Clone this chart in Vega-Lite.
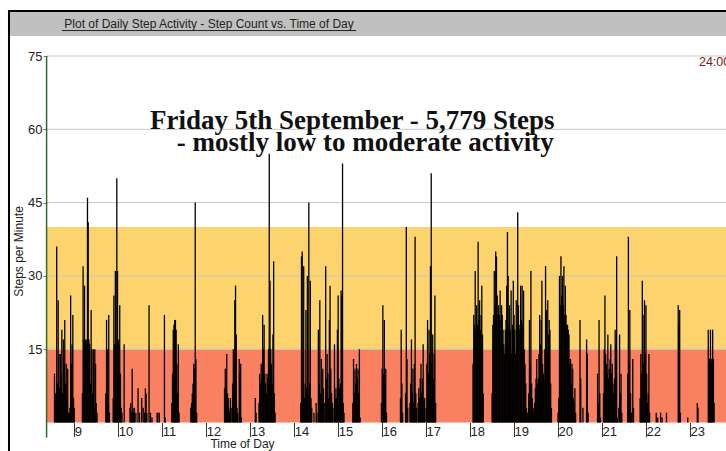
{
"$schema":"https://vega.github.io/schema/vega-lite/v6.json",
"width":679,"height":366.5,
"autosize":{"type":"none"},
"padding":{"left":47,"top":56,"right":0,"bottom":28.5},
"background":"white",
"config":{"view":{"stroke":null},
"axisX":{"domain":false,"grid":false,"tickSize":14,"tickColor":"#333","labelAlign":"left","labelDx":2,"labelBaseline":"alphabetic","labelPadding":-1.5,"labelFont":"Liberation Sans","labelFontSize":13,"labelColor":"#222","labelFlush":false,"labelOverlap":false,"titleFont":"Liberation Sans","titleFontSize":12,"titleFontWeight":"normal","titleColor":"#222","titleX":195,"titleY":24.5,"titleAlign":"center","titleBaseline":"alphabetic","titleAngle":0},
"axisY":{"domain":false,"grid":false,"tickSize":4,"tickColor":"#777","labelFont":"Liberation Sans","labelFontSize":13,"labelColor":"#222","labelPadding":1,"labelOverlap":false,"titleFont":"Liberation Sans","titleFontSize":12,"titleFontWeight":"normal","titleColor":"#222","titleX":-29,"titleY":195,"titleAngle":-90,"titleAlign":"center","titleBaseline":"middle"}},
"layer":[
{"data":{"values":[{"k":"bar"}]},"mark":{"type":"rect","color":"#C0C0C0"},
 "encoding":{"x":{"datum":452.3,"type":"quantitative","scale":{"domain":[502.76,1429.19],"nice":false,"zero":false}},"x2":{"datum":1445},"y":{"datum":79.09,"type":"quantitative","scale":{"domain":[0,75],"nice":false,"zero":false}},"y2":{"datum":84.0}}},
{"data":{"values":[{"k":"top"}]},"mark":{"type":"rule","color":"black","strokeWidth":2},
 "encoding":{"x":{"datum":449.5,"type":"quantitative"},"x2":{"datum":1445},"y":{"datum":84.2,"type":"quantitative"}}},
{"data":{"values":[{"k":"left"}]},"mark":{"type":"rule","color":"black","strokeWidth":2},
 "encoding":{"x":{"datum":450.9,"type":"quantitative"},"y":{"datum":84.2,"type":"quantitative"},"y2":{"datum":-7}}},
{"data":{"values":[{"m":723.8,"v":80.66,"t":"Plot of Daily Step Activity - Step Count vs. Time of Day"}]},
 "mark":{"type":"text","font":"Liberation Sans","fontSize":12,"align":"center","baseline":"alphabetic","color":"#222"},
 "encoding":{"x":{"field":"m","type":"quantitative"},"y":{"field":"v","type":"quantitative"},"text":{"field":"t"}}},
{"data":{"values":[{"k":"underline"}]},"mark":{"type":"rule","color":"#222","strokeWidth":1},
 "encoding":{"x":{"datum":523.2,"type":"quantitative"},"x2":{"datum":924.5},"y":{"datum":80.21,"type":"quantitative"}}},
{"data":{"values":[{"lo":0,"hi":15,"z":"moderate"},{"lo":15,"hi":40,"z":"high"}]},
 "mark":{"type":"rect"},
 "encoding":{"x":{"datum":502.76,"type":"quantitative"},"x2":{"datum":1429.19},"y":{"field":"lo","type":"quantitative"},"y2":{"field":"hi"},
 "color":{"field":"z","type":"nominal","scale":{"domain":["moderate","high"],"range":["#F98060","#FDD36E"]},"legend":null}}},
{"data":{"values":[{"g":15},{"g":30},{"g":45},{"g":60},{"g":75}]},"mark":{"type":"rule","color":"#C8C8C8","strokeWidth":1},
 "encoding":{"x":{"datum":502.76,"type":"quantitative"},"x2":{"datum":1429.19},"y":{"field":"g","type":"quantitative"}}},
{"data":{"values":[{"k":"yaxis"}]},"mark":{"type":"rule","color":"#2E6B2E","strokeWidth":1.5},
 "encoding":{"x":{"datum":502.2,"type":"quantitative"},"y":{"datum":75,"type":"quantitative"},"y2":{"datum":-3.07}}},
{"data":{"values":[
{"m":513,"s":10},{"m":514,"s":6},{"m":515,"s":5},{"m":516,"s":36},{"m":517,"s":8},{"m":518,"s":25},{"m":519,"s":14},{"m":520,"s":7},{"m":521,"s":14},{"m":522,"s":10},{"m":523,"s":19},{"m":524,"s":6},{"m":525,"s":17},{"m":526,"s":12},{"m":527,"s":21},{"m":528,"s":8},{"m":529,"s":12},{"m":530,"s":5},{"m":531,"s":11},{"m":532,"s":2},{"m":533,"s":2},{"m":534,"s":3},{"m":535,"s":26},{"m":536,"s":12},{"m":537,"s":16},{"m":538,"s":22},{"m":539,"s":5},{"m":540,"s":3},
{"m":551,"s":6},{"m":552,"s":32},{"m":553,"s":17},{"m":554,"s":28},{"m":555,"s":17},{"m":556,"s":16},{"m":557,"s":17},{"m":558,"s":46},{"m":559,"s":41},{"m":560,"s":17},{"m":561,"s":16},{"m":562,"s":8},{"m":563,"s":23},{"m":564,"s":15},{"m":565,"s":6},{"m":566,"s":15},{"m":567,"s":3},{"m":568,"s":15},{"m":569,"s":12},{"m":570,"s":4},{"m":571,"s":2},
{"m":583,"s":6},{"m":584,"s":21},{"m":585,"s":15},{"m":586,"s":4},{"m":587,"s":22},{"m":588,"s":2},{"m":593,"s":5},{"m":594,"s":26},{"m":595,"s":16},{"m":596,"s":31},{"m":597,"s":16},{"m":598,"s":50},{"m":599,"s":31},{"m":600,"s":17},{"m":601,"s":16},{"m":602,"s":24},{"m":603,"s":10},{"m":604,"s":3},{"m":605,"s":2},{"m":608,"s":16},
{"m":616,"s":3},{"m":617,"s":4},{"m":618,"s":2},{"m":619,"s":11},{"m":620,"s":3},{"m":621,"s":2},{"m":622,"s":3},{"m":624,"s":2},{"m":627,"s":7},{"m":629,"s":2},{"m":632,"s":5},{"m":634,"s":3},{"m":636,"s":2},{"m":637,"s":7},{"m":638,"s":6},{"m":639,"s":2},{"m":642,"s":24},{"m":644,"s":2},{"m":646,"s":1},{"m":653,"s":2},{"m":654,"s":2},{"m":656,"s":2},
{"m":663,"s":22},{"m":664,"s":1},{"m":673,"s":4},{"m":674,"s":10},{"m":675,"s":19},{"m":676,"s":20},{"m":677,"s":21},{"m":678,"s":21},{"m":679,"s":19},{"m":680,"s":12},{"m":681,"s":6},{"m":682,"s":16},{"m":683,"s":2},
{"m":699,"s":3},{"m":700,"s":4},{"m":701,"s":6},{"m":702,"s":8},{"m":703,"s":12},{"m":704,"s":11},{"m":705,"s":45},{"m":706,"s":13},{"m":707,"s":2},
{"m":745,"s":7},{"m":746,"s":11},{"m":747,"s":9},{"m":748,"s":14},{"m":749,"s":6},{"m":750,"s":5},{"m":751,"s":3},{"m":752,"s":2},{"m":753,"s":5},{"m":754,"s":3},{"m":756,"s":8},{"m":757,"s":15},{"m":758,"s":12},{"m":759,"s":25},{"m":760,"s":28},{"m":761,"s":18},{"m":762,"s":3},{"m":763,"s":2},{"m":765,"s":13},{"m":766,"s":10},{"m":767,"s":12},{"m":768,"s":1},
{"m":787,"s":5},{"m":788,"s":2},{"m":792,"s":4},{"m":793,"s":10},{"m":794,"s":8},{"m":795,"s":12},{"m":796,"s":9},{"m":797,"s":22},{"m":798,"s":15},{"m":799,"s":20},{"m":800,"s":10},{"m":801,"s":8},{"m":802,"s":6},{"m":803,"s":10},{"m":804,"s":9},{"m":805,"s":15},{"m":806,"s":55},{"m":807,"s":29},{"m":808,"s":15},{"m":809,"s":12},{"m":810,"s":8},{"m":811,"s":18},{"m":812,"s":33},{"m":813,"s":6},{"m":814,"s":2},
{"m":849,"s":4},{"m":850,"s":34},{"m":851,"s":35},{"m":852,"s":6},{"m":853,"s":32},{"m":854,"s":5},{"m":855,"s":8},{"m":856,"s":23},{"m":857,"s":7},{"m":858,"s":30},{"m":859,"s":6},{"m":860,"s":45},{"m":861,"s":8},{"m":862,"s":29},{"m":863,"s":5},{"m":864,"s":3},
{"m":867,"s":2},{"m":870,"s":4},{"m":871,"s":2},{"m":873,"s":19},{"m":874,"s":8},{"m":875,"s":25},{"m":876,"s":6},{"m":877,"s":13},{"m":878,"s":4},{"m":879,"s":11},{"m":880,"s":7},{"m":881,"s":4},{"m":883,"s":32},{"m":884,"s":9},{"m":885,"s":14},{"m":886,"s":10},{"m":887,"s":5},{"m":888,"s":21},{"m":889,"s":28},{"m":890,"s":11},{"m":891,"s":6},{"m":892,"s":4},{"m":893,"s":3},{"m":895,"s":16},{"m":896,"s":5},{"m":897,"s":7},{"m":898,"s":5},{"m":899,"s":19},{"m":900,"s":26},{"m":901,"s":9},{"m":902,"s":7},{"m":903,"s":8},{"m":904,"s":27},{"m":905,"s":26},{"m":906,"s":53},{"m":907,"s":4},{"m":908,"s":2},
{"m":920,"s":4},{"m":921,"s":13},{"m":922,"s":6},{"m":923,"s":11},{"m":924,"s":8},{"m":925,"s":12},{"m":926,"s":9},{"m":927,"s":11},{"m":928,"s":6},{"m":929,"s":15},{"m":930,"s":1},
{"m":959,"s":4},{"m":960,"s":11},{"m":961,"s":24},{"m":962,"s":10},{"m":963,"s":21},{"m":964,"s":8},{"m":965,"s":11},{"m":966,"s":2},
{"m":985,"s":5},{"m":986,"s":19},{"m":987,"s":8},{"m":988,"s":2},{"m":992,"s":6},{"m":993,"s":40},{"m":994,"s":13},{"m":995,"s":3},{"m":998,"s":4},{"m":999,"s":8},{"m":1000,"s":17},{"m":1001,"s":6},{"m":1002,"s":11},{"m":1003,"s":4},{"m":1004,"s":12},{"m":1005,"s":38},{"m":1006,"s":6},{"m":1007,"s":3},{"m":1009,"s":4},{"m":1010,"s":7},{"m":1011,"s":5},{"m":1012,"s":9},{"m":1013,"s":12},{"m":1014,"s":6},{"m":1015,"s":9},{"m":1016,"s":16},{"m":1017,"s":5},{"m":1018,"s":5},{"m":1020,"s":3},{"m":1021,"s":12},{"m":1022,"s":21},{"m":1023,"s":10},{"m":1024,"s":19},{"m":1025,"s":14},{"m":1026,"s":32},{"m":1027,"s":51},{"m":1028,"s":12},{"m":1029,"s":18},{"m":1030,"s":9},{"m":1031,"s":14},{"m":1032,"s":26},{"m":1033,"s":4},
{"m":1084,"s":12},{"m":1085,"s":22},{"m":1086,"s":20},{"m":1087,"s":31},{"m":1088,"s":19},{"m":1089,"s":24},{"m":1090,"s":20},{"m":1091,"s":37},{"m":1092,"s":21},{"m":1093,"s":25},{"m":1094,"s":19},{"m":1095,"s":22},{"m":1096,"s":28},{"m":1097,"s":18},{"m":1098,"s":6},
{"m":1110,"s":6},{"m":1111,"s":20},{"m":1112,"s":22},{"m":1113,"s":31},{"m":1114,"s":24},{"m":1115,"s":35},{"m":1116,"s":34},{"m":1117,"s":26},{"m":1118,"s":22},{"m":1119,"s":24},{"m":1120,"s":22},{"m":1121,"s":27},{"m":1122,"s":21},{"m":1123,"s":24},{"m":1124,"s":22},{"m":1125,"s":19},{"m":1126,"s":16},{"m":1127,"s":14},{"m":1128,"s":19},{"m":1129,"s":21},{"m":1130,"s":28},{"m":1131,"s":39},{"m":1132,"s":30},{"m":1133,"s":20},{"m":1134,"s":24},{"m":1135,"s":19},{"m":1136,"s":27},{"m":1137,"s":14},{"m":1138,"s":20},{"m":1139,"s":29},{"m":1140,"s":22},{"m":1141,"s":19},{"m":1142,"s":14},{"m":1143,"s":25},{"m":1144,"s":20},{"m":1145,"s":43},{"m":1146,"s":24},{"m":1147,"s":19},{"m":1148,"s":20},{"m":1149,"s":28},{"m":1150,"s":21},{"m":1151,"s":28},{"m":1152,"s":20},{"m":1153,"s":27},{"m":1154,"s":15},{"m":1155,"s":12},{"m":1156,"s":8},{"m":1157,"s":3},{"m":1158,"s":2},{"m":1159,"s":1},{"m":1160,"s":6},{"m":1161,"s":21},{"m":1162,"s":12},{"m":1163,"s":31},{"m":1164,"s":8},{"m":1165,"s":5},{"m":1166,"s":3},{"m":1167,"s":2},{"m":1168,"s":4},{"m":1169,"s":7},{"m":1170,"s":9},{"m":1171,"s":13},{"m":1172,"s":8},{"m":1173,"s":9},{"m":1174,"s":14},{"m":1175,"s":22},{"m":1176,"s":16},{"m":1177,"s":21},{"m":1178,"s":29},{"m":1179,"s":12},{"m":1180,"s":10},{"m":1181,"s":9},{"m":1182,"s":15},{"m":1183,"s":32},{"m":1184,"s":23},{"m":1185,"s":14},{"m":1186,"s":25},{"m":1187,"s":18},{"m":1188,"s":21},{"m":1189,"s":19},{"m":1190,"s":8},{"m":1191,"s":3},
{"m":1200,"s":2},{"m":1201,"s":5},{"m":1202,"s":30},{"m":1203,"s":24},{"m":1204,"s":34},{"m":1205,"s":26},{"m":1206,"s":30},{"m":1207,"s":24},{"m":1208,"s":32},{"m":1209,"s":22},{"m":1210,"s":28},{"m":1211,"s":22},{"m":1212,"s":20},{"m":1213,"s":20},{"m":1214,"s":19},{"m":1215,"s":18},{"m":1216,"s":12},{"m":1217,"s":13},{"m":1218,"s":8},{"m":1219,"s":12},{"m":1220,"s":11},{"m":1221,"s":5},{"m":1222,"s":4},{"m":1223,"s":7},{"m":1224,"s":2},{"m":1230,"s":21},{"m":1231,"s":9},{"m":1234,"s":3},{"m":1239,"s":17},{"m":1240,"s":14},{"m":1241,"s":2},
{"m":1254,"s":10},{"m":1255,"s":4},{"m":1256,"s":21},{"m":1257,"s":6},{"m":1258,"s":1},{"m":1262,"s":6},{"m":1263,"s":15},{"m":1264,"s":26},{"m":1265,"s":14},{"m":1266,"s":12},{"m":1267,"s":10},{"m":1268,"s":18},{"m":1269,"s":9},{"m":1270,"s":11},{"m":1271,"s":13},{"m":1272,"s":16},{"m":1273,"s":10},{"m":1274,"s":12},{"m":1275,"s":8},{"m":1276,"s":6},{"m":1277,"s":9},{"m":1278,"s":19},{"m":1279,"s":16},{"m":1280,"s":34},{"m":1281,"s":1},{"m":1283,"s":3},{"m":1284,"s":18},{"m":1285,"s":6},{"m":1286,"s":10},{"m":1287,"s":2},
{"m":1295,"s":10},{"m":1296,"s":38},{"m":1297,"s":12},{"m":1298,"s":23},{"m":1299,"s":6},{"m":1300,"s":2},{"m":1302,"s":13},{"m":1303,"s":3},{"m":1312,"s":5},{"m":1313,"s":14},{"m":1314,"s":10},{"m":1315,"s":29},{"m":1316,"s":22},{"m":1317,"s":12},{"m":1318,"s":25},{"m":1319,"s":14},{"m":1320,"s":24},{"m":1321,"s":10},{"m":1322,"s":4},{"m":1323,"s":6},{"m":1324,"s":14},{"m":1325,"s":2},
{"m":1334,"s":2},{"m":1336,"s":1},{"m":1340,"s":2},{"m":1342,"s":1},{"m":1348,"s":2},
{"m":1364,"s":24},{"m":1365,"s":20},{"m":1366,"s":23},{"m":1367,"s":2},
{"m":1377,"s":1},{"m":1390,"s":4},{"m":1391,"s":3},
{"m":1405,"s":19},{"m":1406,"s":13},{"m":1407,"s":13},{"m":1408,"s":19},{"m":1409,"s":13},{"m":1410,"s":12},{"m":1411,"s":19},{"m":1412,"s":13},{"m":1413,"s":4}
]},
 "mark":{"type":"rule","color":"black","strokeWidth":1.3},
 "encoding":{
  "x":{"field":"m","type":"quantitative","scale":{"domain":[502.76,1429.19],"nice":false,"zero":false},"axis":{"values":[540,600,660,720,780,840,900,960,1020,1080,1140,1200,1260,1320,1380],"labelExpr":"'' + (datum.value/60)","title":"Time of Day"}},
  "y":{"field":"s","type":"quantitative","scale":{"domain":[0,75],"nice":false,"zero":false},"axis":{"values":[15,30,45,60,75],"title":"Steps per Minute"}},
  "y2":{"datum":0}}},
{"data":{"values":[{"m":643.3,"v":60.1,"t":"Friday 5th September - 5,779 Steps"},{"m":679.7,"v":55.5,"t":"- mostly low to moderate activity"}]},
 "mark":{"type":"text","font":"Liberation Serif","fontWeight":"bold","fontSize":27,"align":"left","baseline":"alphabetic","color":"#111"},
 "encoding":{"x":{"field":"m","type":"quantitative"},"y":{"field":"v","type":"quantitative"},"text":{"field":"t"}}},
{"data":{"values":[{"m":1392.3,"v":72.95,"t":"24:00"}]},
 "mark":{"type":"text","font":"Liberation Sans","fontSize":12.5,"align":"left","baseline":"alphabetic","color":"#7A1A1A"},
 "encoding":{"x":{"field":"m","type":"quantitative"},"y":{"field":"v","type":"quantitative"},"text":{"field":"t"}}}
]
}
